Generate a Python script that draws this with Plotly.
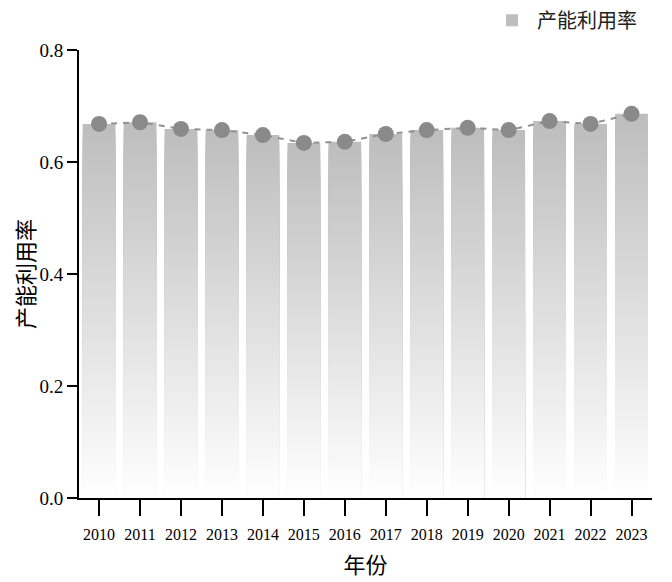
import plotly.graph_objects as go

years = ["2010", "2011", "2012", "2013", "2014", "2015", "2016",
         "2017", "2018", "2019", "2020", "2021", "2022", "2023"]
utilization = [0.668, 0.671, 0.659, 0.657, 0.648, 0.634, 0.636,
               0.650, 0.657, 0.661, 0.657, 0.673, 0.668, 0.686]

series_name = "产能利用率"
x_title = "年份"
y_title = "产能利用率"

fig = go.Figure()

# gradient bars: stack of overlaid bars, tall/dark first, short/light on top
N = 45
top_c = 190
bot_c = 254
for k in range(N):
    frac = (N - k) / N
    c = round(top_c + (bot_c - top_c) * (k / (N - 1)))
    col = f"rgb({c},{c},{c})"
    fig.add_trace(go.Bar(
        x=years,
        y=[v * frac for v in utilization],
        marker=dict(color=col, line=dict(width=0)),
        name=series_name,
        showlegend=(k == 0),
        hoverinfo="skip",
    ))

fig.add_trace(go.Scatter(
    x=years,
    y=utilization,
    mode="lines+markers",
    line=dict(color="rgb(145,145,145)", width=2, dash="6px,6px"),
    marker=dict(color="rgb(138,138,138)", size=16),
    showlegend=False,
))

fig.update_layout(
    width=672,
    height=582,
    barmode="overlay",
    bargap=0.2,
    plot_bgcolor="white",
    paper_bgcolor="white",
    margin=dict(l=71, r=28, t=42, b=92, autoexpand=False),
    font=dict(family="Liberation Serif, Noto Sans CJK SC", color="black"),
    legend=dict(
        x=0.712, y=1.11, xanchor="left", yanchor="top",
        font=dict(family="Noto Sans CJK SC", size=20, color="#222"),
        bgcolor="rgba(0,0,0,0)",
        itemwidth=40,
    ),
    xaxis=dict(
        type="category",
        range=[-0.49, 13.5],
        showline=True, linecolor="black", linewidth=2,
        ticks="outside", ticklen=16, tickwidth=2, tickcolor="black",
        ticklabelstandoff=5,
        tickfont=dict(family="Liberation Serif", size=16),
        showgrid=False, zeroline=False,
        title=dict(text=x_title, font=dict(family="Noto Sans CJK SC", size=22), standoff=15),
    ),
    yaxis=dict(
        range=[0, 0.8],
        tickvals=[0, 0.2, 0.4, 0.6, 0.8],
        ticktext=["0.0", "0.2", "0.4", "0.6", "0.8"],
        showline=True, linecolor="black", linewidth=2,
        ticks="outside", ticklen=10, tickwidth=2, tickcolor="black",
        tickfont=dict(family="Liberation Serif", size=19),
        showgrid=False, zeroline=False,
        title=dict(text=y_title, font=dict(family="Noto Sans CJK SC", size=22), standoff=6),
    ),
)

fig.write_html("out.html")
